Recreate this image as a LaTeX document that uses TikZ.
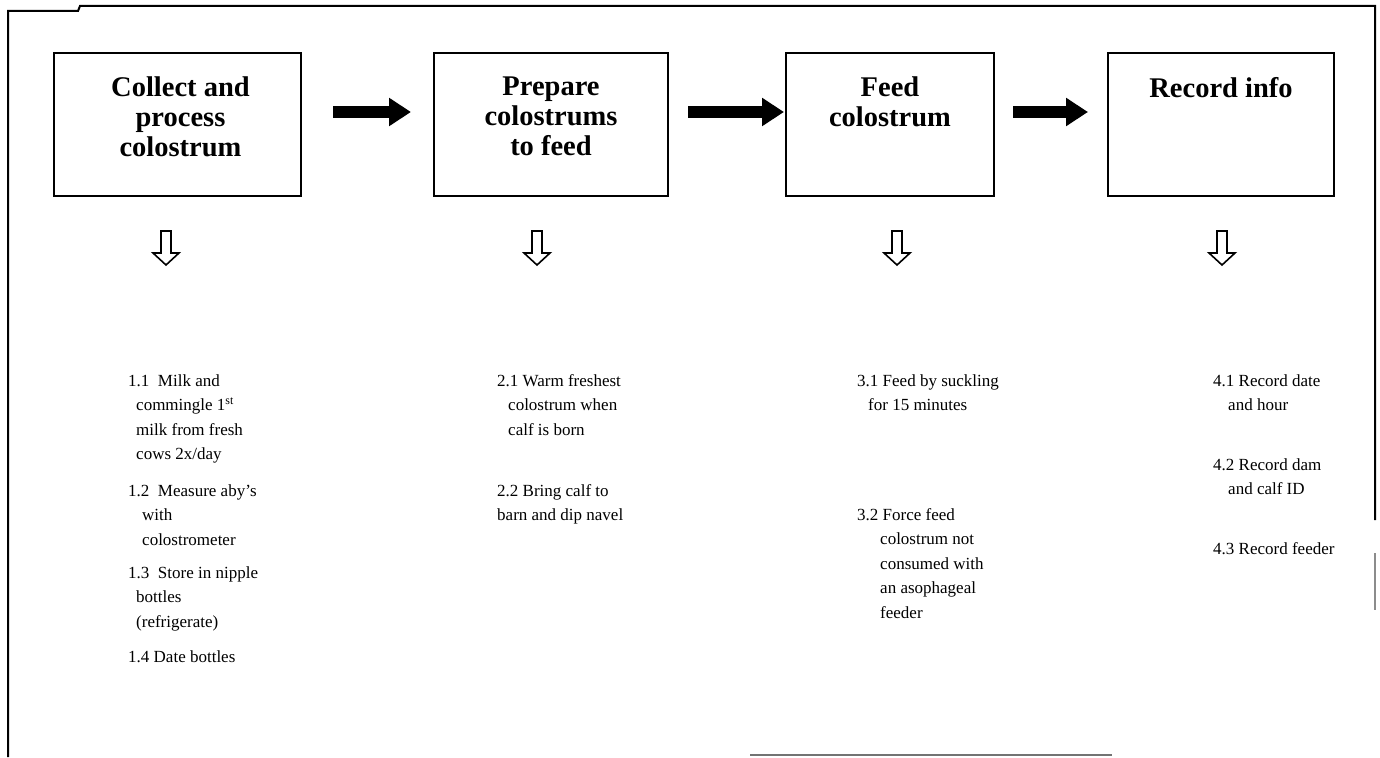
\documentclass[tikz,border=0pt]{standalone}
\usepackage{fontspec}
\setmainfont{Liberation Serif}
\usetikzlibrary{arrows.meta}
\begin{document}
\begin{tikzpicture}[x=1pt,y=-1pt,
  stagebox/.style={draw,line width=2pt,anchor=north west,inner sep=0pt,
    minimum height=143pt},
  title/.style={anchor=north,inner sep=0pt,align=center,
    font=\fontsize{28.5}{30}\selectfont\bfseries},
  item/.style={anchor=north west,inner sep=0pt,align=left,
    font=\fontsize{17}{24.5}\selectfont},
  fat/.style={line width=12pt,-{Triangle[length=22pt,width=27pt]}},
  hollow/.style={line width=1.6pt,line join=miter}]

\useasboundingbox (0,0) rectangle (1380,757);

% outer frame
\draw[line width=2pt] (8,757) -- (8,11) -- (78,11) -- (80,6) -- (1375,6) -- (1375,520);
\draw[line width=1.2pt,black!45] (1375,553) -- (1375,610);
\draw[line width=1.5pt,black!55] (750,755) -- (1112,755);

% stage boxes
\node[stagebox,minimum width=247pt] (b1) at (53,52) {};
\node[stagebox,minimum width=234pt] (b2) at (433,52) {};
\node[stagebox,minimum width=208pt] (b3) at (785,52) {};
\node[stagebox,minimum width=226pt] (b4) at (1107,52) {};

\node[title] (h1) at ([xshift=3pt]b1.north |- 0,77) {Collect and\\process\\colostrum};
\node[title] (h2) at (b2.north |- 0,77) {Prepare\\colostrums\\to feed};
\node[title] (h3) at (b3.north |- 0,77) {Feed\\colostrum};
\node[title] (h4) at (b4.north |- 0,77) {Record info};

% flow arrows between the stages
\coordinate (a1s) at (333,112); \coordinate (a1e) at (411,112);
\coordinate (a2s) at (688,112); \coordinate (a2e) at (784,112);
\coordinate (a3s) at (1013,112); \coordinate (a3e) at (1088,112);
\draw[fat] (a1s) -- (a1e);
\draw[fat] (a2s) -- (a2e);
\draw[fat] (a3s) -- (a3e);

% hollow down arrows under each stage
\foreach \n/\cx in {d1/166,d2/537,d3/897,d4/1222}{
  \coordinate (\n) at (\cx,231);
  \draw[hollow] ([xshift=-5pt]\n) -- ++(0,22) -- ++(-8,0) -- ++(13,12)
    -- ++(13,-12) -- ++(-8,0) -- ++(0,-22) -- cycle;
}

% column 1
\node[item] (i11) at (128,374) {1.1\ \ Milk and\\
  \hspace*{8pt}commingle 1\textsuperscript{st}\\
  \hspace*{8pt}milk from fresh\\
  \hspace*{8pt}cows 2x/day};
\node[item] (i12) at (128,484) {1.2\ \ Measure aby’s\\
  \hspace*{14pt}with\\
  \hspace*{14pt}colostrometer};
\node[item] (i13) at (128,566) {1.3\ \ Store in nipple\\
  \hspace*{8pt}bottles\\
  \hspace*{8pt}(refrigerate)};
\node[item] (i14) at (128,650) {1.4 Date bottles};

% column 2
\node[item] (i21) at (497,374) {2.1 Warm freshest\\
  \hspace*{11pt}colostrum when\\
  \hspace*{11pt}calf is born};
\node[item] (i22) at (497,484) {2.2 Bring calf to\\barn and dip navel};

% column 3
\node[item] (i31) at (857,374) {3.1 Feed by suckling\\
  \hspace*{11pt}for 15 minutes};
\node[item] (i32) at (857,508) {3.2 Force feed\\
  \hspace*{23pt}colostrum not\\
  \hspace*{23pt}consumed with\\
  \hspace*{23pt}an asophageal\\
  \hspace*{23pt}feeder};

% column 4
\node[item] (i41) at (1213,374) {4.1 Record date\\
  \hspace*{15pt}and hour};
\node[item] (i42) at (1213,458) {4.2 Record dam\\
  \hspace*{15pt}and calf ID};
\node[item] (i43) at (1213,542) {4.3 Record feeder};
\end{tikzpicture}
\end{document}
